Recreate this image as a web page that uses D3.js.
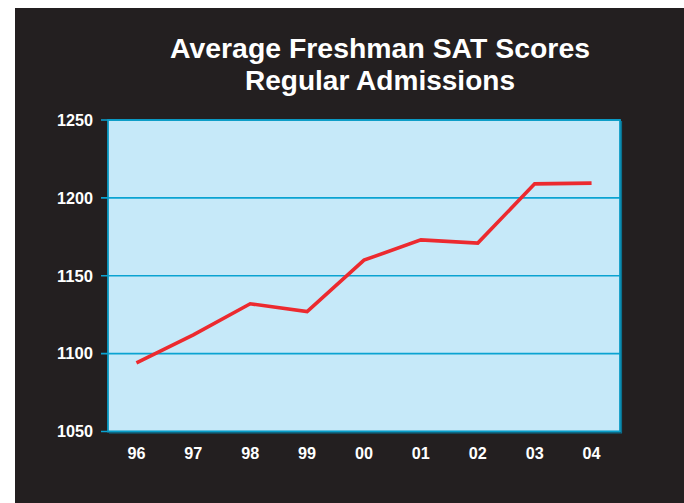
<!DOCTYPE html>
<html><head><meta charset="utf-8">
<script src="https://cdn.jsdelivr.net/npm/d3@7"></script>
<style>html,body{margin:0;padding:0;background:#fff;}svg{display:block;}</style>
</head><body>
<svg id="c" width="684" height="503"></svg>
<script>
const years = ["96","97","98","99","00","01","02","03","04"];
const scores = [1094, 1112, 1132, 1127, 1160, 1173, 1171, 1209, 1209.5];
const yTicks = [1050, 1100, 1150, 1200, 1250];
const titleLines = ["Average Freshman SAT Scores", "Regular Admissions"];

const svg = d3.select("#c");
svg.append("rect").attr("x",15).attr("y",8).attr("width",669).attr("height",495).attr("fill","#231f20");

const m = {left:108, right:620, top:120, bottom:431.5};
const x = d3.scaleBand().domain(years).range([m.left, m.right]);
const y = d3.scaleLinear().domain([1050,1250]).range([m.bottom, m.top]);

// title
const tl = [{t:titleLines[0], y:57.5, w:420, cx:380},{t:titleLines[1], y:89.5, w:270, cx:380}];
svg.selectAll("text.title").data(tl).join("text")
  .attr("class","title")
  .attr("x",d=>d.cx).attr("y",d=>d.y)
  .attr("text-anchor","middle")
  .attr("fill","#fff")
  .style("font-family","'Liberation Sans',Arial,sans-serif")
  .style("font-weight","bold").style("font-size","27px")
  .attr("textLength",d=>d.w).attr("lengthAdjust","spacingAndGlyphs")
  .text(d=>d.t);

// plot background
svg.append("rect").attr("x",m.left).attr("y",m.top).attr("width",m.right-m.left).attr("height",m.bottom-m.top)
  .attr("fill","#c6e9f9");

// gridlines with tick stubs
svg.append("g").selectAll("line").data(yTicks).join("line")
  .attr("x1",m.left-7).attr("x2",m.right)
  .attr("y1",d=>y(d)).attr("y2",d=>y(d))
  .attr("stroke","#0aa3d2").attr("stroke-width",1.6);

// border
svg.append("rect").attr("x",m.left).attr("y",m.top).attr("width",m.right-m.left).attr("height",m.bottom-m.top)
  .attr("fill","none").attr("stroke","#0a9cc6").attr("stroke-width",1.8);
svg.append("line").attr("x1",m.right+1.5).attr("x2",m.right+1.5).attr("y1",m.top+1).attr("y2",m.bottom+1.5)
  .attr("stroke","#0b6f8c").attr("stroke-width",1.2);
svg.append("line").attr("x1",m.left+1).attr("x2",m.right+2).attr("y1",m.bottom+1.5).attr("y2",m.bottom+1.5)
  .attr("stroke","#0b6f8c").attr("stroke-width",1.2);

// y labels
svg.append("g").selectAll("text").data(yTicks).join("text")
  .attr("x",93).attr("y",d=>y(d)).attr("dy","0.36em")
  .attr("text-anchor","end").attr("fill","#fff")
  .style("font-family","'Liberation Sans',Arial,sans-serif").style("font-weight","bold").style("font-size","16px")
  .attr("textLength",36).attr("lengthAdjust","spacingAndGlyphs")
  .text(d=>d);

// x labels
svg.append("g").selectAll("text").data(years).join("text")
  .attr("x",d=>x(d)+x.bandwidth()/2).attr("y",459)
  .attr("text-anchor","middle").attr("fill","#fff")
  .style("font-family","'Liberation Sans',Arial,sans-serif").style("font-weight","bold").style("font-size","16px")
  .attr("textLength",18).attr("lengthAdjust","spacingAndGlyphs")
  .text(d=>d);

// line
const line = d3.line().x((d,i)=>x(years[i])+x.bandwidth()/2).y(d=>y(d));
svg.append("path").datum(scores).attr("d",line)
  .attr("fill","none").attr("stroke","#ec2a2f").attr("stroke-width",3.6).attr("stroke-linejoin","miter");
</script>
</body></html>
